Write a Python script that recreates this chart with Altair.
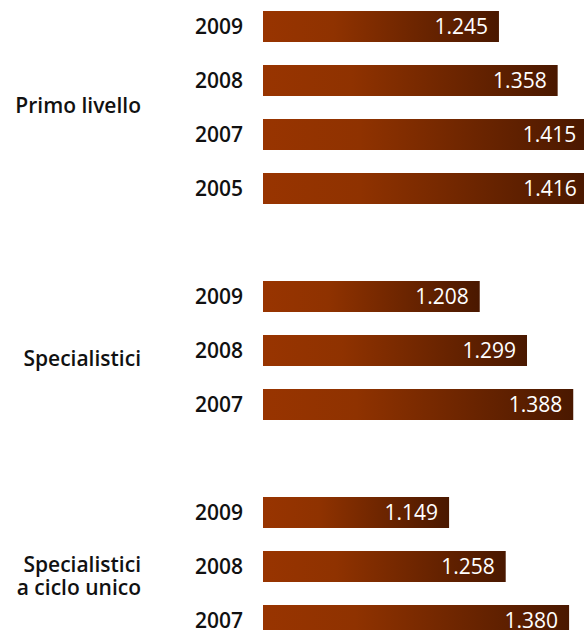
import altair as alt
import pandas as pd

# Data
row_keys = ["P2009", "P2008", "P2007", "P2005", "gap1",
            "S2009", "S2008", "S2007", "gap2",
            "C2009", "C2008", "C2007"]
bar_keys = ["P2009", "P2008", "P2007", "P2005",
            "S2009", "S2008", "S2007",
            "C2009", "C2008", "C2007"]
years = ["2009", "2008", "2007", "2005",
         "2009", "2008", "2007",
         "2009", "2008", "2007"]
values = [1.245, 1.358, 1.415, 1.416,
          1.208, 1.299, 1.388,
          1.149, 1.258, 1.380]
groups = ["Primo livello", "Specialistici", "Specialistici\na ciclo unico"]

X_MIN = 0.7908
X_MAX = 1.4087

df = pd.DataFrame({"key": bar_keys, "year": years, "value": values})
df["base"] = X_MIN

FONT = "Open Sans"

xscale = alt.Scale(domain=[X_MIN, X_MAX], range=[263, 584], zero=False, nice=False)
yscale = alt.Scale(domain=row_keys, range=[-0.5, 647.5], paddingInner=0.426, paddingOuter=0.213)

gradient = alt.Gradient(
    gradient="linear",
    stops=[
        alt.GradientStop(color="#983400", offset=0),
        alt.GradientStop(color="#8f3200", offset=0.3),
        alt.GradientStop(color="#4a1800", offset=1),
    ],
    x1=0, x2=1, y1=0, y2=0,
)

base = alt.Chart(df)

bars = base.mark_bar(color=gradient, clip=True).encode(
    x=alt.X("value:Q", scale=xscale, axis=None),
    x2="base:Q",
    y=alt.Y("key:N", scale=yscale, axis=None),
)

value_labels = base.mark_text(
    align="right", baseline="middle", dx=-11, dy=1.5,
    font=FONT, fontSize=21, fontWeight=500, color="white",
).encode(
    x=alt.X("value:Q", scale=xscale),
    y=alt.Y("key:N", scale=yscale),
    text=alt.Text("value:Q", format=".3f"),
)

year_labels = base.mark_text(
    align="right", baseline="middle", dy=1,
    font=FONT, fontSize=21, fontWeight=600, color="#111111",
).encode(
    x=alt.value(243),
    y=alt.Y("key:N", scale=yscale),
    text="year:N",
)

g1 = alt.Chart(pd.DataFrame({"key": ["P2008"], "label": [groups[0]]})).mark_text(
    align="right", baseline="middle", dy=26,
    font=FONT, fontSize=21, fontWeight=600, color="#111111",
).encode(x=alt.value(141), y=alt.Y("key:N", scale=yscale), text="label:N")

g2 = alt.Chart(pd.DataFrame({"key": ["S2008"], "label": [groups[1]]})).mark_text(
    align="right", baseline="middle", dy=9,
    font=FONT, fontSize=21, fontWeight=600, color="#111111",
).encode(x=alt.value(141), y=alt.Y("key:N", scale=yscale), text="label:N")

g3 = alt.Chart(pd.DataFrame({"key": ["C2008"], "label": [groups[2].split("\n")]})).mark_text(
    align="right", baseline="middle", dy=-1, lineHeight=23,
    font=FONT, fontSize=21, fontWeight=600, color="#111111",
).encode(x=alt.value(141), y=alt.Y("key:N", scale=yscale), text="label")

chart = alt.layer(bars, value_labels, year_labels, g1, g2, g3).properties(
    width=584, height=630,
    padding=0,
    autosize=alt.AutoSizeParams(type="none"),
).configure_view(stroke=None)

chart.save("out.html", embed_options={"renderer": "svg", "actions": False})
